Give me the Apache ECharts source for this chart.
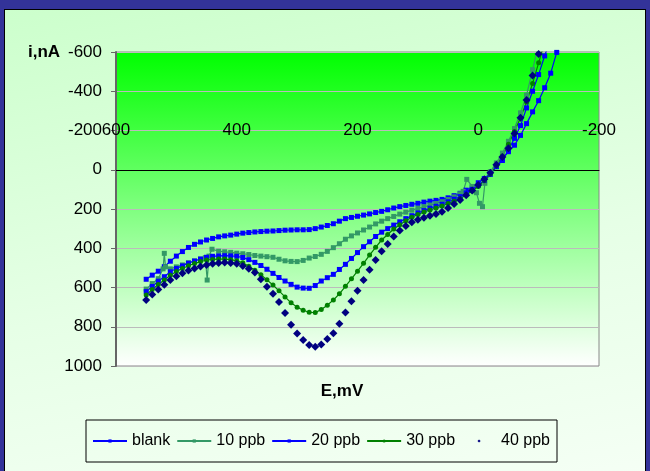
<!DOCTYPE html>
<html><head><meta charset="utf-8">
<script src="https://cdn.jsdelivr.net/npm/echarts@6/dist/echarts.min.js"></script>
<style>
html,body{margin:0;padding:0;}
#frame{position:relative;width:650px;height:471px;background:#333399;overflow:hidden;}
#inner{position:absolute;left:4px;top:9px;width:640px;height:470px;border:1px solid #000;background:linear-gradient(170deg,#ccffcc 0%,#e6ffe6 55%,#f5fff5 100%);}
#chart{position:absolute;left:0;top:0;width:650px;height:471px;}
</style></head><body>
<div id="frame"><div id="inner"></div><div id="chart"></div></div>
<script>
// Potential grid (mV) shared by blank, 20, 30, 40 ppb
const potentials = [550,540,530,520,510,500,490,480,470,460,450,440,430,420,410,400,390,380,370,360,350,340,330,320,310,300,290,280,270,260,250,240,230,220,210,200,190,180,170,160,150,140,130,120,110,100,90,80,70,60,50,40,30,20,10,0,-10,-20,-30,-40,-50,-60,-70,-80,-90,-100,-110,-120,-130,-140];
const blank = [558,537,517,494,466,440,417,396,380,368,358,350,342,337,333,328,323,320,317,315,313,312,310,308,307,306,306,305,300,292,284,275,262,249,243,237,231,225,218,212,204,195,188,182,176,171,165,160,156,151,143,132,120,104,88,66,45,18,-16,-55,-92,-125,-175,-235,-295,-352,-418,-492,-598,-700];
const ppb20 = [621,595,568,545,520,503,490,476,465,455,446,441,439,438,439,441,447,458,472,488,507,528,549,567,584,598,603,604,590,567,550,533,508,482,452,422,392,367,340,318,300,282,265,249,234,220,208,196,186,176,163,150,137,118,100,80,55,24,-16,-47,-100,-160,-225,-315,-400,-485,-580,-670,-760,-850];
const ppb30 = [638,610,585,562,538,518,503,489,478,468,460,457,455,455,458,464,474,492,512,535,561,587,617,648,678,700,716,726,728,712,690,664,632,594,556,517,477,435,395,358,330,302,280,260,242,228,215,205,195,185,172,160,148,128,108,85,55,22,-20,-70,-130,-195,-265,-345,-440,-545,-650,-760,-870,-980];
const ppb40 = [664,636,610,586,562,543,527,514,503,493,485,479,475,473,475,479,490,505,524,558,596,632,674,730,790,835,868,893,902,890,863,833,785,727,670,617,562,510,460,415,378,340,310,286,268,255,244,234,226,214,195,175,154,130,106,78,48,15,-25,-65,-110,-185,-265,-355,-480,-590,-690,-800,-900,-1000];
// 10 ppb has its own grid (includes the spikes)
const potentials10 = [550,540,530,522,520,518,510,500,490,480,470,460,452,449,446,441,430,420,410,400,390,380,370,360,350,340,330,320,310,300,290,280,270,260,250,240,230,220,210,200,190,180,170,160,150,140,130,120,110,100,90,80,70,60,50,40,30,25,19,10,3,-2,-7,-11,-20,-30,-40,-50,-60,-70,-80,-90,-100,-110];
const ppb10 = [608,580,555,505,426,494,505,495,485,474,465,455,448,562,440,405,415,418,421,425,428,432,437,440,443,446,456,464,467,468,462,450,442,431,416,397,377,354,337,322,307,292,276,262,249,238,226,216,206,197,189,180,172,163,152,138,122,110,49,85,117,171,188,69,10,-35,-85,-145,-210,-290,-380,-510,-640,-760];

const xTicks = [-200,0,200,400,600];
const yTicks = [-600,-400,-200,0,200,400,600,800,1000];

const FONT = '"Liberation Sans",Arial,sans-serif';
const pairs = (xs, ys) => xs.map((x, k) => [x, ys[k]]);

const chart = echarts.init(document.getElementById('chart'), null, {renderer: 'canvas'});
const mk = (name, xs, ys, color, symbol, size, lineOpacity) => ({
  name, type: 'line', xAxisIndex: 0, data: pairs(xs, ys), symbol, symbolSize: size,
  showSymbol: true, clip: true,
  lineStyle: {color, width: 1.2, opacity: lineOpacity},
  itemStyle: {color}
});
const xBase = {type: 'value', min: xTicks[0], max: xTicks[xTicks.length - 1], interval: 200, inverse: true, gridIndex: 0};
chart.setOption({
  animation: false,
  backgroundColor: 'transparent',
  textStyle: {fontFamily: FONT},
  grid: {left: 116, top: 52, width: 483, height: 314, show: true,
    backgroundColor: {type: 'linear', x: 0, y: 0, x2: 0, y2: 1,
      colorStops: [{offset: 0, color: '#00ff00'}, {offset: 1, color: '#ffffff'}]},
    borderColor: '#888', borderWidth: 1},
  xAxis: [
    Object.assign({}, xBase, {position: 'bottom',
      axisLine: {onZero: true, lineStyle: {color: '#000', width: 1}},
      axisTick: {show: false},
      axisLabel: {show: false},
      splitLine: {show: false}}),
    Object.assign({}, xBase, {position: 'top',
      axisLine: {show: false, onZero: false},
      axisTick: {show: false},
      axisLabel: {inside: true, margin: 70, color: '#000', fontSize: 17, fontFamily: FONT},
      splitLine: {show: false}})
  ],
  yAxis: {type: 'value', min: yTicks[0], max: yTicks[yTicks.length - 1], interval: 200, inverse: true,
    axisLine: {show: true, onZero: false, lineStyle: {color: '#666', width: 2}},
    axisTick: {show: true, length: 5, lineStyle: {color: '#666'}},
    axisLabel: {margin: 14, color: '#000', fontSize: 17, fontFamily: FONT, formatter: v => String(v)},
    splitLine: {lineStyle: {color: '#bbbbbb', width: 1}}},
  legend: {left: 86, top: 420, itemWidth: 34, itemHeight: 4, itemGap: 6,
    padding: [13, 7, 13, 6], borderColor: '#000', borderWidth: 1,
    textStyle: {fontSize: 16, color: '#000', fontFamily: FONT},
    data: ['blank', '10 ppb', '20 ppb', '30 ppb', '40 ppb']},
  graphic: [
    {type: 'text', x: 28, y: 52, style: {text: 'i,nA', fontSize: 17, fontWeight: 'bold', fontFamily: FONT, fill: '#000', align: 'left', verticalAlign: 'middle'}},
    {type: 'text', x: 342, y: 391, style: {text: 'E,mV', fontSize: 17, fontWeight: 'bold', fontFamily: FONT, fill: '#000', align: 'center', verticalAlign: 'middle'}}
  ],
  series: [
    mk('blank', potentials, blank, '#0000ff', 'rect', 5, 1),
    mk('10 ppb', potentials10, ppb10, '#339966', 'rect', 5, 1),
    mk('20 ppb', potentials, ppb20, '#0000ff', 'rect', 5, 1),
    mk('30 ppb', potentials, ppb30, '#008000', 'circle', 5, 1),
    mk('40 ppb', potentials, ppb40, '#000080', 'diamond', 8, 0)
  ]
});
</script></body></html>
